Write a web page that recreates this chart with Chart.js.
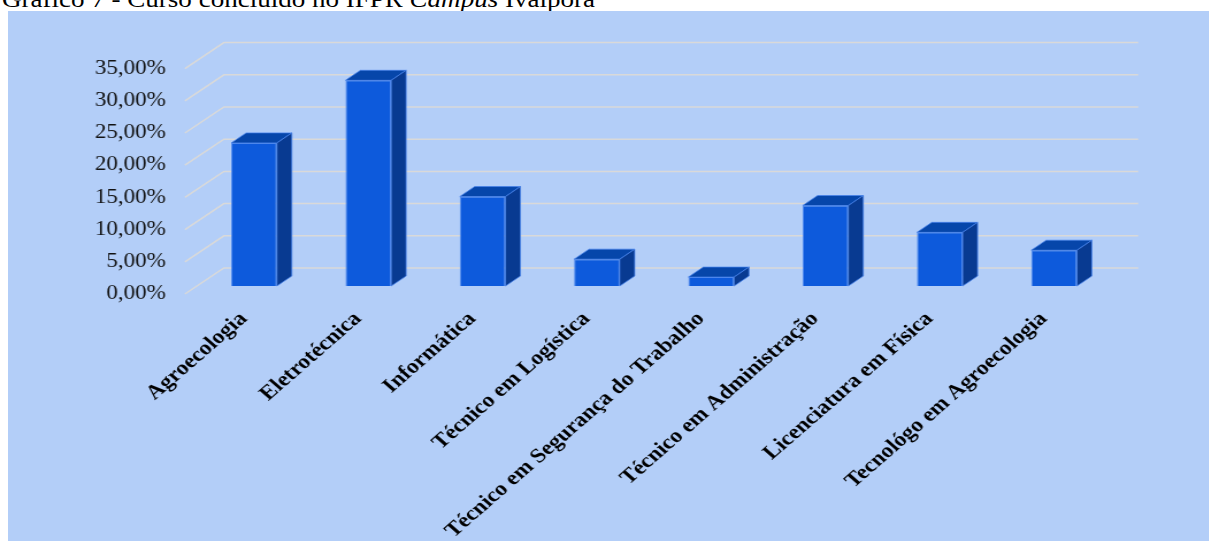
<!DOCTYPE html>
<html lang="pt">
<head>
    <meta charset="UTF-8">
    <title>Curso concluído no IFPR Campus Ivaiporã</title>
    <script src="https://cdn.jsdelivr.net/npm/chart.js"></script>
    <style>
        body { margin: 0; background: #fff; overflow: hidden; width: 1209px; height: 542px; position: relative; }
        #titulo {
            position: absolute; left: 2px; top: -13px;
            font-family: 'Liberation Serif', 'Times New Roman', serif;
            font-size: 23.5px; line-height: 24px; color: #000; white-space: nowrap;
            transform: scaleX(1.15); transform-origin: 0 0;
        }
        #painel { position: absolute; left: 8px; top: 11px; right: 0; height: 530px; background: #b3cef8; }
        /* o gráfico foi esticado na horizontal no documento */
        #grafico { position: absolute; left: 0; top: 0; width: 1051px; height: 542px; transform: scaleX(1.15); transform-origin: 0 0; }
    </style>
</head>
<body>
    <div id="titulo">Gráfico 7 - Curso concluído no IFPR <i>Campus</i> Ivaiporã</div>
    <div id="painel"></div>
    <div id="grafico"><canvas id="cursos"></canvas></div>

    <script>
        // Cursos concluídos (percentual dos respondentes)
        const cursos = [
            'Agroecologia', 'Eletrotécnica', 'Informática', 'Técnico em Logística',
            'Técnico em Segurança do Trabalho', 'Técnico em Administração',
            'Licenciatura em Física', 'Tecnológo em Agroecologia'
        ];
        const percentuais = [22.22, 31.94, 13.89, 4.17, 1.39, 12.50, 8.33, 5.56];
        const marcasY = [0, 5, 10, 15, 20, 25, 30, 35];

        const fonte = "'Liberation Serif', 'Times New Roman', serif";

        // deslocamentos da perspectiva 3D
        const fundo = { dx: 23.5, dy: -18 };
        const frente = { dx: -10.4, dy: 8 };
        const prof = { dx: 13, dy: -10 };

        const efeito3d = {
            id: 'efeito3d',
            beforeDatasetsDraw(chart) {
                const ctx = chart.ctx;
                const { left, right } = chart.chartArea;
                const y = chart.scales.y;
                ctx.save();
                ctx.strokeStyle = '#d9d9d9';
                ctx.lineWidth = 1.5;
                marcasY.forEach(v => {
                    const py = y.getPixelForValue(v);
                    ctx.beginPath();
                    ctx.moveTo(left + frente.dx, py + frente.dy);
                    ctx.lineTo(left + fundo.dx, py + fundo.dy);
                    ctx.lineTo(right + fundo.dx, py + fundo.dy);
                    ctx.stroke();
                });
                ctx.restore();
            },
            afterDatasetsDraw(chart) {
                const ctx = chart.ctx;
                ctx.save();
                ctx.strokeStyle = 'rgba(70,130,235,0.9)';
                ctx.lineWidth = 0.8;
                chart.getDatasetMeta(0).data.forEach(bar => {
                    const l = bar.x - bar.width / 2, r = bar.x + bar.width / 2;
                    const t = bar.y, b = bar.base;
                    // topo
                    ctx.fillStyle = '#0646aa';
                    ctx.beginPath();
                    ctx.moveTo(l, t); ctx.lineTo(r, t);
                    ctx.lineTo(r + prof.dx, t + prof.dy); ctx.lineTo(l + prof.dx, t + prof.dy);
                    ctx.closePath(); ctx.fill(); ctx.stroke();
                    // lateral
                    ctx.fillStyle = '#083a91';
                    ctx.beginPath();
                    ctx.moveTo(r, t); ctx.lineTo(r + prof.dx, t + prof.dy);
                    ctx.lineTo(r + prof.dx, b + prof.dy); ctx.lineTo(r, b);
                    ctx.closePath(); ctx.fill(); ctx.stroke();
                });
                ctx.restore();
            }
        };

        new Chart(document.getElementById('cursos'), {
            type: 'bar',
            data: {
                labels: cursos,
                datasets: [{
                    data: percentuais,
                    backgroundColor: '#0d5adc',
                    borderColor: 'rgba(70,130,235,0.9)',
                    borderWidth: 1,
                    categoryPercentage: 1,
                    barPercentage: 0.4
                }]
            },
            options: {
                responsive: true,
                maintainAspectRatio: false,
                animation: false,
                layout: { padding: { top: 60.6, right: 84.7, bottom: 0, left: 0 } },
                plugins: { legend: { display: false }, tooltip: { enabled: false } },
                scales: {
                    x: {
                        grid: { display: false },
                        border: { display: false },
                        afterFit: s => { s.height = 256; },
                        ticks: {
                            autoSkip: false,
                            minRotation: 45,
                            maxRotation: 45,
                            padding: 13,
                            labelOffset: -9,
                            color: '#000',
                            font: { family: fonte, size: 20.5, weight: 'bold' }
                        }
                    },
                    y: {
                        min: 0,
                        max: 35,
                        grid: { display: false, drawTicks: false },
                        border: { display: false },
                        afterFit: s => { s.width = 171.2; },
                        afterBuildTicks: s => { s.ticks = marcasY.map(v => ({ value: v })); },
                        ticks: {
                            padding: 27,
                            labelOffset: 8,
                            color: '#111',
                            font: { family: fonte, size: 20 },
                            callback: v => v.toFixed(2).replace('.', ',') + '%'
                        }
                    }
                }
            },
            plugins: [efeito3d]
        });
    </script>
</body>
</html>
